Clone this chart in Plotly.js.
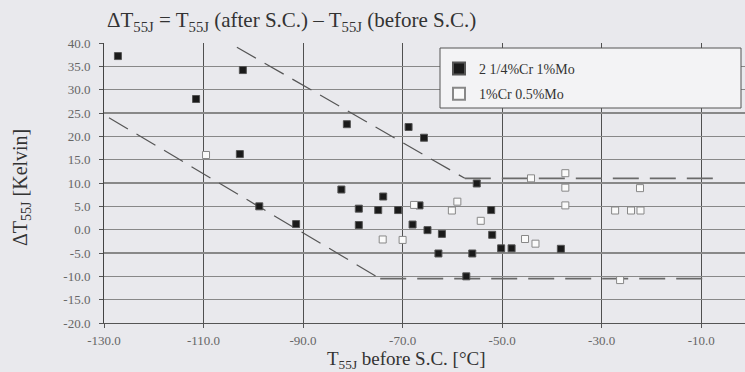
<!DOCTYPE html>
<html>
<head>
<meta charset="utf-8">
<script src="https://cdn.plot.ly/plotly-3.0.1.min.js"></script>
<style>
html,body{margin:0;padding:0;background:#e9e9ed;}
#chart{width:745px;height:372px;}
</style>
</head>
<body>
<div id="chart"></div>
<script>
// 2 1/4%Cr 1%Mo (filled squares)
const crMoA_x = [-127.2,-111.5,-102.1,-102.7,-98.8,-91.4,-82.3,-81.2,-78.8,-78.8,-74.9,-73.9,-70.9,-68.8,-68.0,-66.6,-65.7,-65.0,-62.1,-62.8,-57.2,-56.0,-55.1,-52.2,-52.0,-50.2,-48.1,-38.2];
const crMoA_y = [37.2,28.0,34.2,16.2,5.0,1.2,8.6,22.6,4.5,1.0,4.2,7.1,4.2,22.0,1.1,5.2,19.7,-0.1,-0.9,-5.1,-10.0,-5.1,9.9,4.2,-1.1,-4.0,-4.0,-4.1];
// 1%Cr 0.5%Mo (open squares)
const crMoB_x = [-109.5,-74.0,-70.0,-67.7,-59.0,-60.1,-54.3,-45.4,-43.3,-44.2,-37.3,-37.3,-37.3,-22.3,-27.3,-24.1,-22.2,-26.3];
const crMoB_y = [16.0,-2.1,-2.2,5.3,6.0,4.1,1.9,-2.0,-3.0,11.0,12.1,9.0,5.2,8.9,4.1,4.1,4.1,-10.8];
// scatter band limits
const upper_x = [-103.3,-57.5];
const upper_y = [39.1,11.0];
const upperFlat_x = [-57.5,-7.5];
const upperFlat_y = [11.0,11.0];
const lower_x = [-129.0,-74.5];
const lower_y = [24.0,-10.5];
const lowerFlat_x = [-74.5,-9.5];
const lowerFlat_y = [-10.5,-10.5];
const seriesNames = ["2 1/4%Cr 1%Mo","1%Cr 0.5%Mo"];
const xTicks = [-130,-110,-90,-70,-50,-30,-10];
const yTicks = [-20,-15,-10,-5,0,5,10,15,20,25,30,35,40];
const fmt = v => (v < 0 ? '-' : '') + Math.abs(v).toFixed(1);

const serif = "Liberation Serif, Times New Roman, serif";
const diag = {color:'#555', width:1.2, dash:'22px,10px'};
const flat = {color:'#6a6a6a', width:1.6, dash:'26px,11px'};

const traces = [
  {x:upper_x, y:upper_y, mode:'lines', line:diag, showlegend:false, hoverinfo:'skip'},
  {x:upperFlat_x, y:upperFlat_y, mode:'lines', line:flat, showlegend:false, hoverinfo:'skip'},
  {x:lower_x, y:lower_y, mode:'lines', line:diag, showlegend:false, hoverinfo:'skip'},
  {x:lowerFlat_x, y:lowerFlat_y, mode:'lines', line:flat, showlegend:false, hoverinfo:'skip'},
  {x:crMoA_x, y:crMoA_y, mode:'markers', name:seriesNames[0], legendgroup:'a',
   marker:{symbol:'square', size:7, color:'#1a1a1a', line:{color:'#555', width:1}}},
  {x:crMoB_x, y:crMoB_y, mode:'markers', name:seriesNames[1], legendgroup:'b',
   marker:{symbol:'square', size:7, color:'#fafafa', line:{color:'#888', width:1}}}
];

const L = 104, R = 0, T = 43, B = 49, W = 745, H = 372;
const pw = W - L - R, ph = H - T - B;
const px = v => (v - L) / pw;
const py = v => (H - B - v) / ph;

const layout = {
  width:W, height:H,
  margin:{l:L, r:R, t:T, b:B},
  paper_bgcolor:'#e9e9ed',
  plot_bgcolor:'#e9e9ed',
  font:{family:serif, color:'#333'},
  title:{text:'ΔT<sub>55J</sub> = T<sub>55J</sub> (after S.C.) – T<sub>55J</sub> (before S.C.)',
    font:{family:serif, size:21, color:'#333'},
    xref:'container', yref:'container', x:107/W, xanchor:'left', y:1-20/H, yanchor:'middle'},
  xaxis:{range:[-130,-1.2], tickvals:xTicks, ticktext:xTicks.map(fmt), showgrid:true,
    gridcolor:'#505050', gridwidth:1, zeroline:false, showline:true, linecolor:'#555', linewidth:1,
    ticks:'outside', ticklen:4, tickcolor:'#555', ticklabelstandoff:1,
    tickfont:{family:serif, size:13, color:'#666'}},
  yaxis:{range:[-20,40], tickvals:yTicks, ticktext:yTicks.map(fmt), showgrid:true,
    gridcolor:'#888', gridwidth:1.3, zeroline:false, showline:true, linecolor:'#444', linewidth:1,
    ticks:'outside', ticklen:4, tickcolor:'#555', ticklabelstandoff:6,
    tickfont:{family:serif, size:13, color:'#666'}},
  annotations:[
    {text:'T<sub>55J</sub> before S.C. [°C]', xref:'paper', yref:'paper', x:px(406), y:py(360),
     xanchor:'center', yanchor:'middle', showarrow:false, font:{family:serif, size:19, color:'#333'}},
    {text:'ΔT<sub>55J</sub> [Kelvin]', xref:'paper', yref:'paper', x:px(21), y:py(187), textangle:-90,
     xanchor:'center', yanchor:'middle', showarrow:false, font:{family:serif, size:20, color:'#333'}}
  ],
  shapes:[
    {type:'rect', xref:'paper', yref:'paper', layer:'above',
     x0:px(440), x1:px(741), y0:py(108), y1:py(48),
     fillcolor:'#f3f3f5', line:{color:'#555', width:1}}
  ],
  legend:{x:px(439), y:py(53), xanchor:'left', yanchor:'top', traceorder:'grouped',
    bgcolor:'rgba(0,0,0,0)', borderwidth:0, font:{family:serif, size:14, color:'#333'},
    tracegroupgap:4, itemsizing:'constant'},
  showlegend:true
};

Plotly.newPlot('chart', traces, layout, {displayModeBar:false, staticPlot:true});
</script>
</body>
</html>
